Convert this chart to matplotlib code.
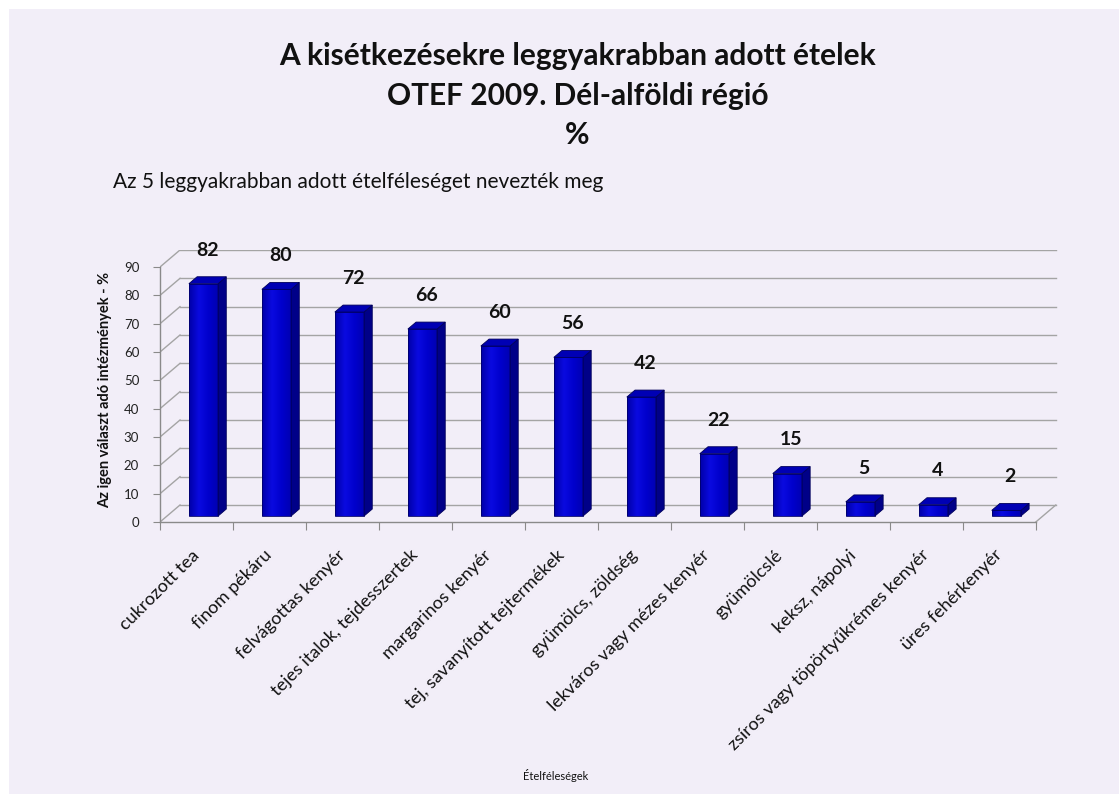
import numpy as np
import matplotlib.pyplot as plt
from matplotlib.colors import LinearSegmentedColormap
from matplotlib.patches import Polygon, Rectangle

# Adatok
categories = ['cukrozott tea', 'finom pékáru', 'felvágottas kenyér',
              'tejes italok, tejdesszertek', 'margarinos kenyér',
              'tej, savanyított tejtermékek', 'gyümölcs, zöldség',
              'lekváros vagy mézes kenyér', 'gyümölcslé', 'keksz, nápolyi',
              'zsíros vagy töpörtyűkrémes kenyér', 'üres fehérkenyér']
values = [82, 80, 72, 66, 60, 56, 42, 22, 15, 5, 4, 2]
yticks = [0, 10, 20, 30, 40, 50, 60, 70, 80, 90]

title = 'A kisétkezésekre leggyakrabban adott ételek\nOTEF 2009. Dél-alföldi régió\n%'
subtitle = 'Az 5 leggyakrabban adott ételféleséget nevezték meg'
ylabel = 'Az igen választ adó intézmények - %'
xlabel = 'Ételféleségek'

# 3D hatás: a doboz mélysége adategységben
DX, DY = 0.274, 6.0
F0, F1 = 0.35, 0.76   # oszlop eleje/hátulja a mélységen belül
BAR_W = 0.4

plt.rcParams['font.family'] = ['Lato', 'DejaVu Sans']

# az oszlop elejének vízszintes színátmenete
front_cmap = LinearSegmentedColormap.from_list(
    'front', ['#0000a8', '#0a0ae0', '#0000cc', '#0000b0'])
grad = np.linspace(0, 1, 64).reshape(1, -1)

fig = plt.figure(figsize=(11.19, 7.94), dpi=100)
fig.patch.set_facecolor('white')
fig.patches.append(Rectangle((9 / 1119, 0), 1, 1 - 9 / 794, transform=fig.transFigure,
                             facecolor='#f2eef8', edgecolor='none', zorder=-10))

ax = fig.add_axes([160 / 1119, 272 / 794, 898 / 1119, 272 / 794])
ax.set_facecolor('none')
n = len(categories)
ax.set_xlim(0, n + DX + 0.03)
ax.set_ylim(0, 90 + DY)

grid_c = '#a4a4a4'
# hátfal rácsvonalai és bal oldalfal
for v in yticks:
    ax.plot([DX, n + DX], [v + DY, v + DY], color=grid_c, lw=1, zorder=1)
    ax.plot([0, DX], [v, v + DY], color=grid_c, lw=1, zorder=1)
# padló jobb széle
ax.plot([n, n + DX], [0, DY], color=grid_c, lw=1, zorder=1)

# oszlopok
for i, v in enumerate(values):
    x0 = i + 0.5 - BAR_W / 2 + F0 * DX
    y0 = F0 * DY
    ddx, ddy = (F1 - F0) * DX, (F1 - F0) * DY
    front = Rectangle((x0, y0), BAR_W, v, facecolor='none',
                      edgecolor='#00006a', lw=0.6, zorder=3.1)
    ax.add_patch(front)
    im = ax.imshow(grad, cmap=front_cmap, aspect='auto', zorder=3,
                   extent=(x0, x0 + BAR_W, y0, y0 + v), interpolation='bilinear')
    im.set_clip_path(front)
    ax.add_patch(Polygon([(x0 + BAR_W, y0), (x0 + BAR_W + ddx, y0 + ddy),
                          (x0 + BAR_W + ddx, y0 + v + ddy), (x0 + BAR_W, y0 + v)],
                         closed=True, facecolor='#000088', edgecolor='#00005a',
                         lw=0.6, zorder=3))
    ax.add_patch(Polygon([(x0, y0 + v), (x0 + ddx, y0 + v + ddy),
                          (x0 + BAR_W + ddx, y0 + v + ddy), (x0 + BAR_W, y0 + v)],
                         closed=True, facecolor='#0000b4', edgecolor='#00005a',
                         lw=0.6, zorder=3))
    ax.text(i + 0.5 + 0.15, v + 14, str(v), ha='center', va='center',
            fontsize=14, fontweight='bold', color='#111111', clip_on=False, zorder=4)

ax.set_xlim(0, n + DX + 0.03)
ax.set_ylim(0, 90 + DY)

# tengelyek
for s in ['top', 'right']:
    ax.spines[s].set_visible(False)
ax.spines['left'].set_bounds(0, 90)
ax.spines['bottom'].set_bounds(0, n)
for s in ['left', 'bottom']:
    ax.spines[s].set_color('#8a8a8a')
    ax.spines[s].set_linewidth(1)

ax.set_yticks(yticks)
ax.tick_params(axis='y', length=5, color='#8a8a8a', labelsize=9.5, pad=10, labelcolor='#222222')
ax.set_xticks(range(n + 1))
ax.set_xticklabels([])
ax.tick_params(axis='x', which='major', length=6, color='#8a8a8a')
ax.set_xticks([i + 0.5 for i in range(n)], minor=True)
ax.set_xticklabels(categories, minor=True, rotation=45, ha='right', va='center',
                   rotation_mode='anchor', fontsize=13, color='#111111')
ax.tick_params(axis='x', which='minor', length=0, pad=22)

fig.text(0.516, 1 - 42 / 794, title, ha='center', va='top', fontsize=21.5,
         fontweight='bold', linespacing=1.5, color='#111111')
fig.text(113 / 1119, 1 - 182 / 794, subtitle, ha='left', va='center', fontsize=15,
         color='#111111')
fig.text(105 / 1119, 1 - 390 / 794, ylabel, ha='center', va='center', rotation=90,
         fontsize=10.5, fontweight='bold', color='#111111')
fig.text(556 / 1119, 1 - 776 / 794, xlabel, ha='center', va='center', fontsize=8,
         color='#111111')

fig.savefig('out.png', dpi=100, facecolor=fig.get_facecolor())
